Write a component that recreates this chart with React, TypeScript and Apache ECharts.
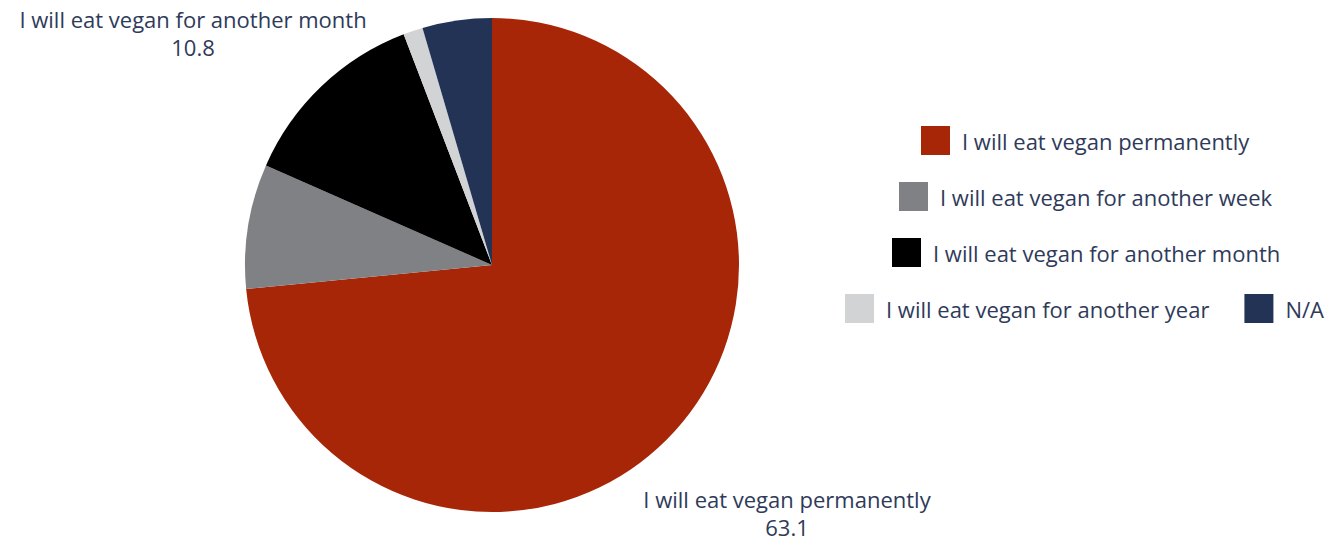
import React, { useEffect, useRef } from "react";
import * as echarts from "echarts";

const categories = [
  "I will eat vegan permanently",
  "I will eat vegan for another week",
  "I will eat vegan for another month",
  "I will eat vegan for another year",
  "N/A",
];
const values = [63.1, 7.0, 10.8, 1.1, 3.9];
const colors = ["#a82608", "#808184", "#000000", "#d1d3d4", "#223356"];
const labelled = [true, false, true, false, false];

const TEXT = "#2f3a5a";
const FONT = "Open Sans";

export default function App() {
  const ref = useRef<HTMLDivElement>(null);
  useEffect(() => {
    if (!ref.current) return;
    const chart = echarts.init(ref.current, undefined, { renderer: "svg" });
    const legendBase = {
      orient: "horizontal" as const,
      padding: 0,
      itemWidth: 29,
      itemHeight: 29,
      itemGap: 35,
      icon: "rect",
      selectedMode: false,
      textStyle: { fontFamily: FONT, fontSize: 22, color: TEXT, padding: [0, 0, 0, 7] },
    };
    chart.setOption({
      animation: false,
      color: colors,
      textStyle: { fontFamily: FONT },
      legend: [
        { ...legendBase, data: [categories[0]], left: 921, top: 126 },
        { ...legendBase, data: [categories[1]], left: 899, top: 182 },
        { ...legendBase, data: [categories[2]], left: 892, top: 238 },
        { ...legendBase, data: [categories[3], categories[4]], left: 845, top: 294 },
      ],
      series: [
        {
          type: "pie",
          center: [492, 265],
          radius: [0, 247],
          startAngle: 90,
          clockwise: true,
          avoidLabelOverlap: false,
          label: {
            show: true,
            position: "outside",
            formatter: "{b}\n{c}",
            fontFamily: FONT,
            fontSize: 22,
            lineHeight: 28,
            color: TEXT,
            align: "center",
          },
          labelLine: { show: false },
          labelLayout: (p: any) => {
            if (p.dataIndex === 0) return { x: 787, y: 513, align: "center", verticalAlign: "middle" };
            if (p.dataIndex === 2) return { x: 193, y: 33, align: "center", verticalAlign: "middle" };
            return {};
          },
          data: categories.map((name, i) => ({
            name,
            value: values[i],
            label: { show: labelled[i] },
          })),
        },
      ],
    });
    return () => chart.dispose();
  }, []);
  return (
    <div
      ref={ref}
      style={{ position: "fixed", left: 0, top: 0, width: 1326, height: 542, background: "#fff" }}
    />
  );
}
